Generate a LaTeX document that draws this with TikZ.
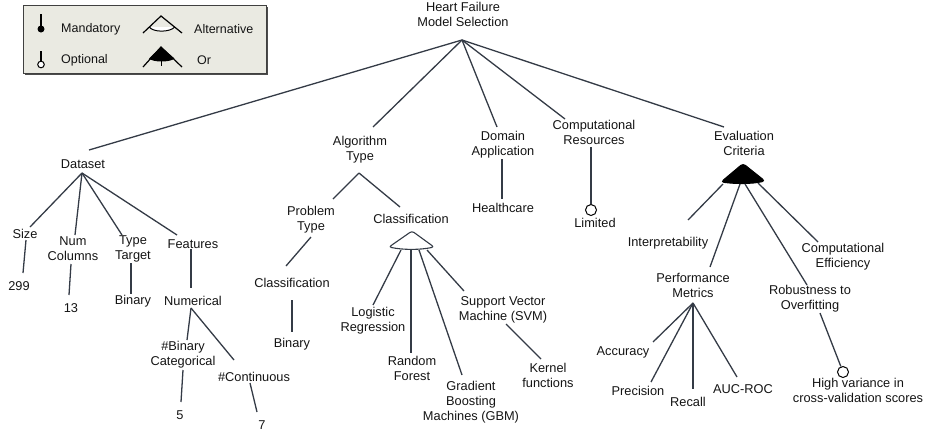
\documentclass[tikz,border=0pt]{standalone}
\usepackage{fontspec}
\setmainfont{Liberation Sans}
\definecolor{ln}{HTML}{343B46}
\definecolor{legbg}{RGB}{234,234,226}
\definecolor{txt}{HTML}{141414}
\begin{document}
\begin{tikzpicture}[x=1pt,y=-1pt,
  lbl/.style={font=\fontsize{12.8}{15}\selectfont, align=center, inner sep=0pt, text=txt},
  leg/.style={font=\fontsize{12.5}{15}\selectfont, anchor=west, inner sep=0pt, text=txt},
  con/.style={draw=ln, line width=1.3pt},
  optc/.style={circle, draw=black, fill=white, line width=1pt, minimum size=11pt, inner sep=0pt}]
\useasboundingbox (0,0) rectangle (925,432);

% ---------- legend ----------
\fill[black!70] (25,7) rectangle (268,75);
\draw[black!75, fill=legbg, line width=0.8pt] (23,5) rectangle (266,73);
\node[leg] (lm) at (61,29) {Mandatory};
\node[leg] (lo) at (61,60) {Optional};
\node[leg] (la) at (194,29) {Alternative};
\node[leg] (lr) at (197,60) {Or};
% mandatory symbol
\draw[black, line width=1.2pt] (41,14) -- (41,27);
\fill[black] (41,29) circle[radius=3.5pt];
% optional symbol
\draw[black, line width=1.2pt] (41,51) -- (41,61);
\draw[black, fill=white, line width=1pt] (41,64.5) circle[radius=3.3pt];
% alternative symbol
\draw[black, fill=white, line width=1pt] (149.3,27) .. controls (153,32.5) and (170,32.5) .. (174.7,27);
\draw[black, line width=1.2pt] (143,33) -- (161,16) -- (182,33);
% or symbol
\fill[black] (161,47) -- (149,58.5) .. controls (153,62.5) and (170,62.5) .. (174.5,58.5) -- cycle;
\draw[black, line width=1.2pt] (143,67) -- (161,47) -- (182,67);
\draw[black, line width=1pt] (161,60) -- (161,66);

% ---------- nodes ----------
\node[lbl] (root) at (463,14.5) {Heart Failure\\Model Selection};
\node[lbl] (dataset) at (83,164) {Dataset};
\node[lbl] (algo) at (360,149.5) {Algorithm\\Type};
\node[lbl] (domain) at (503,144.5) {Domain\\Application};
\node[lbl] (comp) at (594,132.5) {Computational\\Resources};
\node[lbl] (eval) at (744,143.5) {Evaluation\\Criteria};

\node[lbl] (size) at (25,234) {Size};
\node[lbl] (numcol) at (73,249) {Num\\Columns};
\node[lbl] (typet) at (133,249) {Type\\Target};
\node[lbl] (features) at (193,244) {Features};
\node[lbl] (n299) at (19,286) {299};
\node[lbl] (n13) at (71,308) {13};
\node[lbl] (binary1) at (133,301) {Binary};
\node[lbl] (numerical) at (193,301) {Numerical};
\node[lbl] (bincat) at (183,354.5) {\#Binary\\Categorical};
\node[lbl] (cont) at (254,377) {\#Continuous};
\node[lbl] (n5) at (180,415) {5};
\node[lbl] (n7) at (262,425) {7};

\node[lbl] (ptype) at (311,219.5) {Problem\\Type};
\node[lbl] (class1) at (411,219) {Classification};
\node[lbl] (class2) at (292,283) {Classification};
\node[lbl] (binary2) at (292,344) {Binary};
\node[lbl] (logreg) at (373,320.5) {Logistic\\Regression};
\node[lbl] (rf) at (412,368.5) {Random\\Forest};
\node[lbl] (gbm) at (471,402) {Gradient\\Boosting\\Machines (GBM)};
\node[lbl] (svm) at (503,309.5) {Support Vector\\Machine (SVM)};
\node[lbl] (kernel) at (548,375.5) {Kernel\\functions};

\node[lbl] (health) at (503,208) {Healthcare};
\node[optc] (limc) at (591,210) {};
\node[lbl] (limited) at (595,223) {Limited};

\node[lbl] (interp) at (668,243) {Interpretability};
\node[lbl] (perf) at (693,285.5) {Performance\\Metrics};
\node[lbl] (robust) at (810,298.5) {Robustness to\\Overfitting};
\node[lbl] (compeff) at (843,256.5) {Computational\\Efficiency};
\node[lbl] (acc) at (623,352) {Accuracy};
\node[lbl] (prec) at (638,391) {Precision};
\node[lbl] (recall) at (688,402) {Recall};
\node[lbl] (auc) at (743,389) {AUC-ROC};
\node[optc] (hvc) at (843,372) {};
\node[lbl] (highvar) at (858,390) {High variance in\\cross-validation scores};

% ---------- junction points ----------
\coordinate (rj) at ([shift={(-1,25.5)}]root.center);
\coordinate (dj) at ([shift={(-1,9)}]dataset.center);
\coordinate (nj) at ([shift={(-2,7)}]numerical.center);
\coordinate (aj) at ([shift={(-1,23.5)}]algo.center);
\coordinate (pj) at ([shift={(0,17.5)}]perf.center);

% ---------- root connectors ----------
\draw[con] (rj) -- ([shift={(6,-14)}]dataset.center);
\draw[con] (rj) -- ([shift={(13,-22.5)}]algo.center);
\draw[con] (rj) -- ([shift={(-6,-17.5)}]domain.center);
\draw[con] (rj) -- ([shift={(-29,-13.5)}]comp.center);
\draw[con] (rj) -- ([shift={(-20,-16.5)}]eval.center);

% ---------- dataset ----------
\draw[con] (dj) -- ([shift={(5,-7)}]size.center);
\draw[con] (dj) -- ([shift={(2,-14)}]numcol.center);
\draw[con] (dj) -- ([shift={(-11,-14)}]typet.center);
\draw[con] (dj) -- ([shift={(-16,-9)}]features.center);
\draw[con] ([shift={(1,6)}]size.center) -- ([shift={(4,-13)}]n299.center);
\draw[con] ([shift={(-2,15)}]numcol.center) -- ([shift={(-2,-13)}]n13.center);
\draw[con] ([shift={(-2,14)}]typet.center) -- ([shift={(-2,-7)}]binary1.center);
\draw[con] ([shift={(-2,5)}]features.center) -- ([shift={(-2,-13)}]numerical.center);
\draw[con] (nj) -- ([shift={(4,-14.5)}]bincat.center);
\draw[con] (nj) -- ([shift={(-20,-17)}]cont.center);
\draw[con] ([shift={(0,15.5)}]bincat.center) -- ([shift={(1,-13)}]n5.center);
\draw[con] ([shift={(-4,6)}]cont.center) -- ([shift={(-5,-13)}]n7.center);

% ---------- algorithm type ----------
\draw[con] (aj) -- ([shift={(22,-20.5)}]ptype.center);
\draw[con] (aj) -- ([shift={(-11,-12)}]class1.center);
\draw[con] ([shift={(0,17.5)}]ptype.center) -- ([shift={(-6,-17)}]class2.center);
\draw[con] ([shift={(0,17)}]class2.center) -- ([shift={(0,-12)}]binary2.center);
% alternative group
\draw[draw=ln, line width=1.1pt, fill=white, rounded corners=2.5pt]
  ([shift={(1,12)}]class1.center) -- ([shift={(-22,28)}]class1.center)
  .. controls ([shift={(-8,31)}]class1.center) and ([shift={(9,31)}]class1.center) ..
  ([shift={(23,28)}]class1.center) -- cycle;
\draw[con] ([shift={(-10,31)}]class1.center) -- ([shift={(0,-15.5)}]logreg.center);
\draw[con] ([shift={(0,31)}]class1.center) -- ([shift={(-1,-15.5)}]rf.center);
\draw[con] ([shift={(8,31)}]class1.center) -- ([shift={(-9,-27)}]gbm.center);
\draw[con] ([shift={(16,31)}]class1.center) -- ([shift={(-39,-18.5)}]svm.center);
\draw[con] ([shift={(3,14.5)}]svm.center) -- ([shift={(-7,-16.5)}]kernel.center);

% ---------- domain / resources ----------
\draw[con] ([shift={(-1,14.5)}]domain.center) -- ([shift={(-1,-9)}]health.center);
\draw[con] ([shift={(-3,14.5)}]comp.center) -- (limc);

% ---------- evaluation criteria ----------
\filldraw[draw=black, fill=black, line width=1pt, rounded corners=3pt]
  ([shift={(-1,20)}]eval.center) -- ([shift={(-23,38.5)}]eval.center)
  .. controls ([shift={(-8,40.5)}]eval.center) and ([shift={(8,40.5)}]eval.center) ..
  ([shift={(21,37.5)}]eval.center) -- cycle;
\draw[con] ([shift={(-21,40.5)}]eval.center) -- ([shift={(20,-23)}]interp.center);
\draw[con] ([shift={(-4,40.5)}]eval.center) -- ([shift={(17,-18.5)}]perf.center);
\draw[con] ([shift={(1,40.5)}]eval.center) -- ([shift={(-3,-13.5)}]robust.center);
\draw[con] ([shift={(14,39.5)}]eval.center) -- ([shift={(-25,-14.5)}]compeff.center);
\draw[con] (pj) -- ([shift={(30,-10)}]acc.center);
\draw[con] (pj) -- ([shift={(13,-9)}]prec.center);
\draw[con] (pj) -- ([shift={(5,-13)}]recall.center);
\draw[con] (pj) -- ([shift={(-6,-12)}]auc.center);
\draw[con] ([shift={(10,14.5)}]robust.center) -- (hvc);
\end{tikzpicture}
\end{document}
